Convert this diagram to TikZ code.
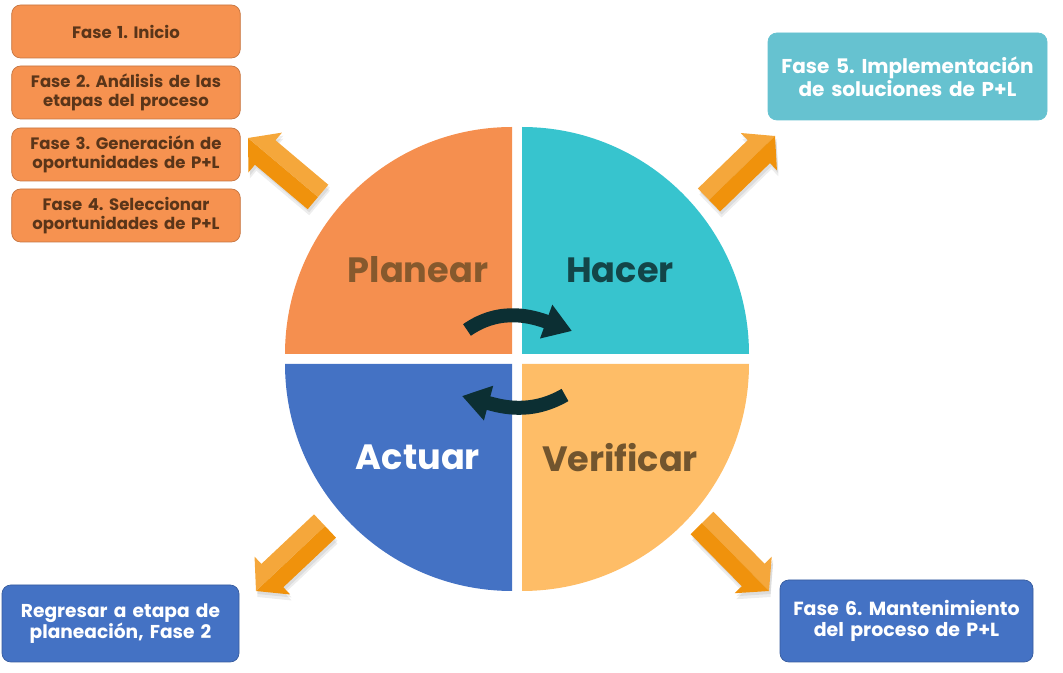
\documentclass[tikz,border=0pt]{standalone}
\usepackage{fontspec}
\setmainfont{Poppins}
\usetikzlibrary{arrows.meta,calc}
\frenchspacing

\definecolor{planearc}{HTML}{F58F4F}
\definecolor{hacerc}{HTML}{37C4CE}
\definecolor{actuarc}{HTML}{4472C4}
\definecolor{verificarc}{HTML}{FEBD67}
\definecolor{boxorange}{HTML}{F69250}
\definecolor{boxteal}{HTML}{66C2D0}
\definecolor{arrlight}{HTML}{F5A73B}
\definecolor{arrdark}{HTML}{F0920C}
\definecolor{loopc}{HTML}{0C2F33}
\definecolor{browntext}{HTML}{5A3519}

% block arrow: tail, tip, colour of left half, colour of right half
\newcommand{\blockarrow}[4]{%
  \coordinate (#1h) at ($(#2)!0.45cm!(#1)$);
  \foreach \dy in {0.06,0.12}
    \fill[black,opacity=0.07,transform canvas={shift={(0.03,-\dy)}}]
      ($(#1)!0.32cm!90:(#2)$) -- ($(#1h)!0.32cm!90:(#2)$) -- ($(#1h)!0.52cm!90:(#2)$)
      -- (#2) -- ($(#1h)!0.52cm!-90:(#2)$) -- ($(#1h)!0.32cm!-90:(#2)$)
      -- ($(#1)!0.32cm!-90:(#2)$) -- cycle;
  \fill[#3] ($(#1)!0.32cm!90:(#2)$) -- ($(#1h)!0.32cm!90:(#2)$)
    -- ($(#1h)!0.52cm!90:(#2)$) -- (#2) -- (#1h) -- (#1) -- cycle;
  \fill[#4] (#1) -- (#1h) -- (#2) -- ($(#1h)!0.52cm!-90:(#2)$)
    -- ($(#1h)!0.32cm!-90:(#2)$) -- ($(#1)!0.32cm!-90:(#2)$) -- cycle;
}

\begin{document}
\begin{tikzpicture}[every node/.style={font=\bfseries, align=center},
                    fasebox/.style={rounded corners=5pt, minimum height=1.06cm, text width=4.5cm,
                                    minimum width=4.56cm, inner sep=1pt, draw=#1!80!black, fill=#1,
                                    font=\bfseries\fontsize{9.4}{10.6}\selectfont},
                    quadlabel/.style={font=\bfseries\fontsize{20}{22}\selectfont},
                    looparrow/.style={loopc, line width=0.28cm, -{Triangle[length=0.55cm,width=0.68cm]}}]
  \useasboundingbox (0,0) rectangle (21.26,-13.46);

  % circle
  \coordinate (c) at (10.34,-7.18);
  \fill[planearc]   ($(c)+(-0.1,0.1)$)  -- ++(-4.54,0) arc (180:90:4.54) -- cycle;
  \fill[hacerc]     ($(c)+(0.1,0.1)$)   -- ++(0,4.54) arc (90:0:4.54) -- cycle;
  \fill[actuarc]    ($(c)+(-0.1,-0.1)$) -- ++(0,-4.54) arc (270:180:4.54) -- cycle;
  \fill[verificarc] ($(c)+(0.1,-0.1)$)  -- ++(4.54,0) arc (0:-90:4.54) -- cycle;

  \node[quadlabel, text=brown!70!black] (planear)   at (8.36,-5.4)  {Planear};
  \node[quadlabel, text=hacerc!35!black] (hacer)    at (12.4,-5.4)  {Hacer};
  \node[quadlabel, text=white]          (actuar)    at (8.36,-9.14) {Actuar};
  \node[quadlabel, text=verificarc!45!black] (verificar) at (12.4,-9.16) {Verificar};

  % turning arrows
  \coordinate (p1) at (9.34,-6.6);
  \coordinate (p2) at (11.44,-6.62);
  \coordinate (q1) at (11.3,-7.9);
  \coordinate (q2) at (9.24,-7.92);
  \draw[looparrow] (p1) to[out=35,in=160] (p2);
  \draw[looparrow] (q1) to[out=210,in=-15] (q2);

  % phases
  \node[fasebox=boxorange, text=browntext] (f1) at (2.52,-0.63) {Fase 1. Inicio};
  \node[fasebox=boxorange, text=browntext] (f2) at (2.52,-1.85) {Fase 2. Análisis de las\\etapas del proceso};
  \node[fasebox=boxorange, text=browntext] (f3) at (2.52,-3.09) {Fase 3. Generación de\\oportunidades de P+L};
  \node[fasebox=boxorange, text=browntext] (f4) at (2.52,-4.31) {Fase 4. Seleccionar\\oportunidades de P+L};
  \node[fasebox=boxteal, draw=boxteal, text=white, minimum width=5.58cm, text width=5.4cm,
        minimum height=1.74cm, font=\bfseries\fontsize{11.4}{11.6}\selectfont]
       (f5) at (18.15,-1.53) {Fase 5. Implementación\\de soluciones de P+L};
  \node[fasebox=actuarc, text=white, minimum width=4.74cm, minimum height=1.54cm,
        font=\bfseries\fontsize{10.6}{12.4}\selectfont]
       (back) at (2.41,-12.47) {Regresar a etapa de\\planeación, Fase 2};
  \node[fasebox=actuarc, text=white, minimum width=5.06cm, text width=4.9cm, minimum height=1.64cm,
        font=\bfseries\fontsize{10.8}{12.4}\selectfont]
       (f6) at (18.13,-12.42) {Fase 6. Mantenimiento\\del proceso de P+L};

  % big arrows
  \coordinate (tl-a) at (6.36,-3.94);   \coordinate (tl-b) at (4.96,-2.76);
  \coordinate (tr-a) at (14.18,-4.0);   \coordinate (tr-b) at (15.5,-2.72);
  \coordinate (bl-a) at (6.5,-10.52);   \coordinate (bl-b) at (5.12,-11.82);
  \coordinate (br-a) at (14.04,-10.46); \coordinate (br-b) at (15.38,-11.82);
  \blockarrow{tl-a}{tl-b}{arrdark}{arrlight}
  \blockarrow{tr-a}{tr-b}{arrlight}{arrdark}
  \blockarrow{bl-a}{bl-b}{arrdark}{arrlight}
  \blockarrow{br-a}{br-b}{arrlight}{arrdark}
\end{tikzpicture}
\end{document}
